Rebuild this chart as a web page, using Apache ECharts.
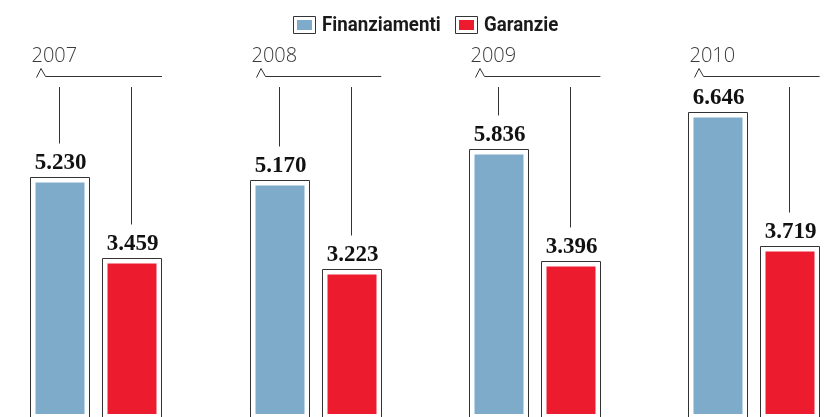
<!DOCTYPE html>
<html>
<head>
<meta charset="utf-8">
<script src="https://cdn.jsdelivr.net/npm/echarts@6/dist/echarts.min.js"></script>
<style>
  html, body { margin: 0; padding: 0; background: #fff; }
  #chart { width: 834px; height: 417px; }
</style>
</head>
<body>
<div id="chart"></div>
<script>
// dati (migliaia)
var years = ['2007', '2008', '2009', '2010'];
var finanziamenti = [5.230, 5.170, 5.836, 6.646];
var garanzie = [3.459, 3.223, 3.396, 3.719];
var seriesNames = ['Finanziamenti', 'Garanzie'];
var colors = ['#7fabcb', '#ec1b2e'];

var OFF = 36;      // distanza centro barra dal centro gruppo
var OUT_W = 59;    // larghezza cornice
var INSET = 5;     // spazio bianco tra cornice e barra
var LINE_TOP = 87; // inizio dei fili verticali
var LABEL_FONT = 'bold 23px "Liberation Serif", "DejaVu Serif", serif';

function fmt(v) {
  return v.toFixed(3);
}

function makeRender(si) {
  return function (params, api) {
    var idx = api.value(0);
    var v = api.value(1);
    var top = api.coord([idx, v]);
    var zero = api.coord([idx, 0]);
    var cx = Math.round(top[0] + (si === 0 ? -OFF : OFF));
    var left = cx - OUT_W / 2;
    var yTop = Math.round(top[1]) + 0.5;
    var yBot = zero[1] + 2;
    var children = [
      {
        type: 'rect',
        shape: { x: left, y: yTop, width: OUT_W, height: yBot - yTop },
        style: { fill: '#fff', stroke: '#333', lineWidth: 1 }
      },
      {
        type: 'rect',
        shape: { x: left + INSET, y: yTop + INSET, width: OUT_W - 2 * INSET, height: yBot - yTop - 2 * INSET },
        style: { fill: colors[si] }
      },
      {
        type: 'text',
        style: {
          text: fmt(v), x: cx + 0.5, y: yTop - 3,
          font: LABEL_FONT, fill: '#111',
          align: 'center', verticalAlign: 'bottom'
        }
      }
    ];
    var lineEnd = yTop - 34;
    if (lineEnd > LINE_TOP) {
      children.push({
        type: 'line',
        shape: { x1: cx - 0.5, y1: LINE_TOP, x2: cx - 0.5, y2: lineEnd },
        style: { stroke: '#333', lineWidth: 1 }
      });
    }
    if (si === 0) {
      // parentesi con anno
      var gl = left;
      var gr = top[0] + OFF + OUT_W / 2;
      children.push({
        type: 'text',
        style: {
          text: years[idx], x: gl + 1, y: 66,
          fontSize: 20, fontFamily: '"Open Sans", "Noto Sans", sans-serif', fontWeight: 300,
          fill: '#3a3a3a', align: 'left', verticalAlign: 'bottom'
        }
      });
      children.push({
        type: 'polyline',
        shape: { points: [[gl + 6, 77.5], [gl + 10.5, 68.5], [gl + 15, 76.5], [gr, 76.5]] },
        style: { stroke: '#333', lineWidth: 1, fill: null }
      });
    }
    return { type: 'group', children: children };
  };
}

function toData(arr) {
  return arr.map(function (v, i) { return [i, v]; });
}

var chart = echarts.init(document.getElementById('chart'));

function legendItem(x, color, name) {
  return {
    type: 'group', left: x, top: 16,
    children: [
      { type: 'rect', shape: { x: 0.5, y: 0.5, width: 22, height: 17 }, style: { fill: '#fff', stroke: '#333', lineWidth: 1 } },
      { type: 'rect', shape: { x: 4, y: 4, width: 15, height: 10 }, style: { fill: color } },
      {
        type: 'text', x: 29, y: 0, scaleX: 0.935,
        style: {
          text: name, fill: '#1a1a1a',
          font: 'bold 20px Roboto, "DejaVu Sans", sans-serif'
        }
      }
    ]
  };
}

chart.setOption({
  animation: false,
  grid: { left: 0, right: 0, top: 0, bottom: 0 },
  xAxis: { type: 'value', min: -0.4402, max: 3.3645, show: false },
  yAxis: { type: 'value', min: 0, max: 9.08, show: false },
  graphic: [
    legendItem(293, colors[0], seriesNames[0]),
    legendItem(455, colors[1], seriesNames[1])
  ],
  series: [
    { name: seriesNames[0], type: 'custom', renderItem: makeRender(0), data: toData(finanziamenti), encode: { x: 0, y: 1 } },
    { name: seriesNames[1], type: 'custom', renderItem: makeRender(1), data: toData(garanzie), encode: { x: 0, y: 1 } }
  ]
});
</script>
</body>
</html>
